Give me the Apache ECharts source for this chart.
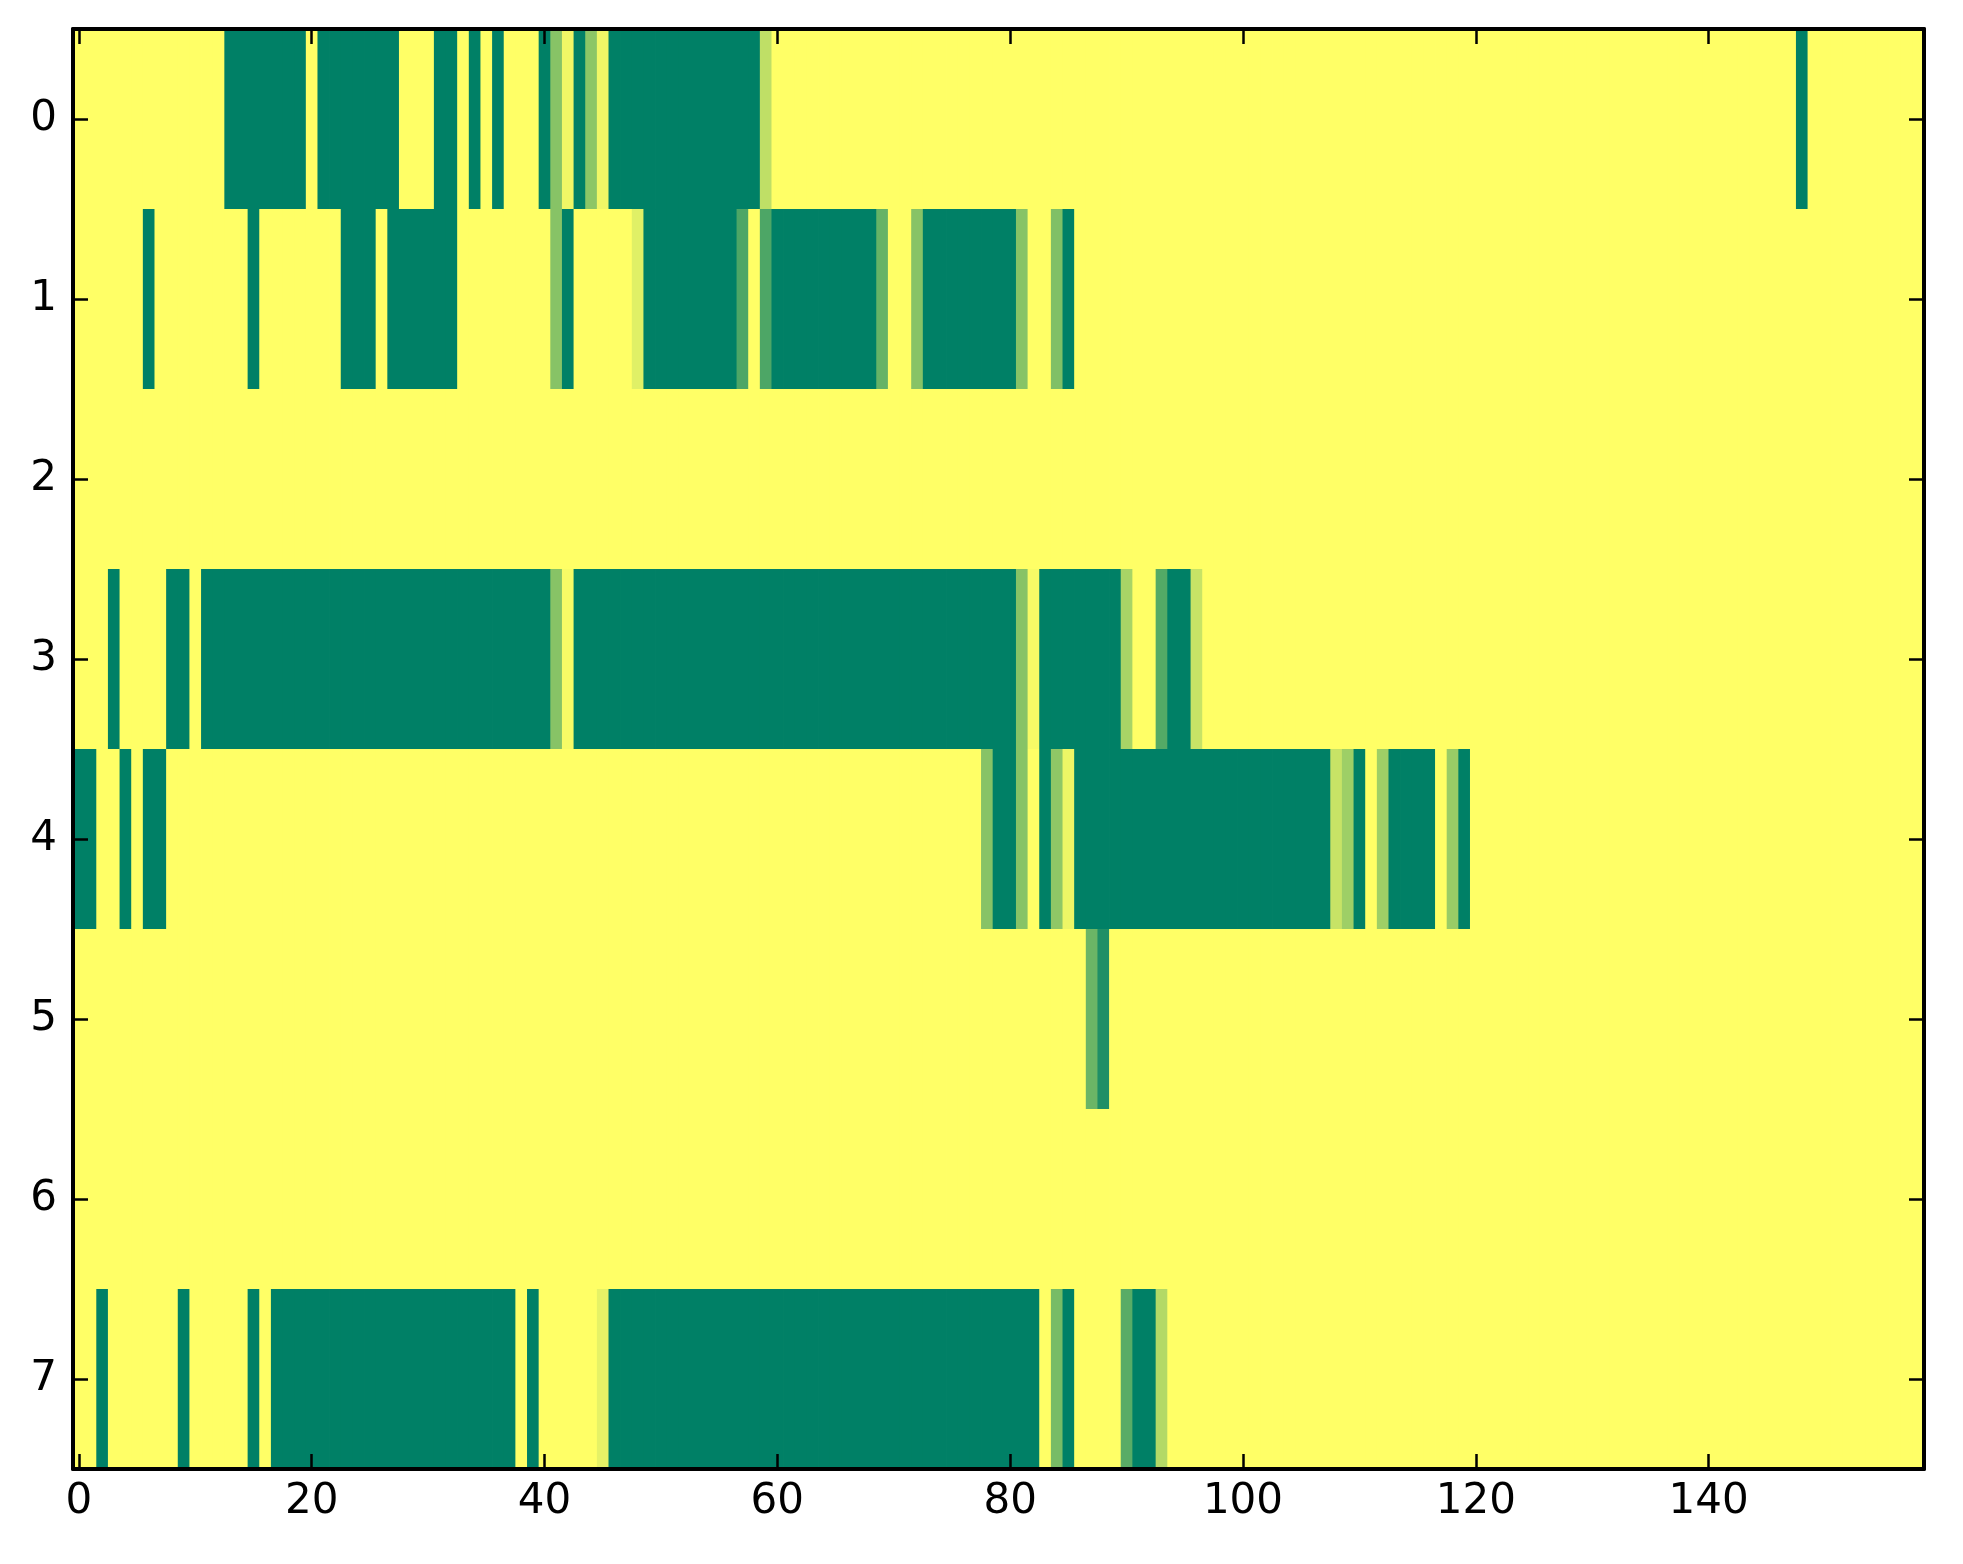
<!DOCTYPE html>
<html>
<head>
<meta charset="utf-8">
<script src="https://cdn.jsdelivr.net/npm/echarts@6/dist/echarts.min.js"></script>
<style>
  html, body { margin: 0; padding: 0; background: #ffffff; }
  #chart { width: 1963px; height: 1564px; }
</style>
</head>
<body>
<div id="chart"></div>
<script>
// ---- data (values 0..1 on the "summer" colour scale) ----
const row0 = [
  1,1,1,1,1,1,1,1,1,1,
  1,1,1,0,0,0,0,0,0,0,
  1,0,0,0,0,0,0,0,1,1,
  1,0,0,1,0,1,0,1,1,1,
  0,0.53,0.94,0,0.55,0.94,0,0,0,0,
  0,0,0,0,0,0,0,0,0,0.75,
  1,1,1,1,1,1,1,1,1,1,
  1,1,1,1,1,1,1,1,1,1,
  1,1,1,1,1,1,1,1,1,1,
  1,1,1,1,1,1,1,1,1,1,
  1,1,1,1,1,1,1,1,1,1,
  1,1,1,1,1,1,1,1,1,1,
  1,1,1,1,1,1,1,1,1,1,
  1,1,1,1,1,1,1,1,1,1,
  1,1,1,1,1,1,1,1,0,1,
  1,1,1,1,1,1,1,1,1
];
const row1 = [
  1,1,1,1,1,1,0,1,1,1,
  1,1,1,1,1,0,1,1,1,1,
  1,1,1,0,0,0,1,0,0,0,
  0,0,0,1,1,1,1,1,1,1,
  1,0.53,0,1,1,1,1,1,0.88,0,
  0,0,0,0,0,0,0,0.3,1,0.3,
  0,0,0,0,0,0,0,0,0,0.4,
  1,1,0.53,0,0,0,0,0,0,0,
  0,0.53,1,1,0.5,0,1,1,1,1,
  1,1,1,1,1,1,1,1,1,1,
  1,1,1,1,1,1,1,1,1,1,
  1,1,1,1,1,1,1,1,1,1,
  1,1,1,1,1,1,1,1,1,1,
  1,1,1,1,1,1,1,1,1,1,
  1,1,1,1,1,1,1,1,1,1,
  1,1,1,1,1,1,1,1,1
];
const row2 = [
  1,1,1,1,1,1,1,1,1,1,
  1,1,1,1,1,1,1,1,1,1,
  1,1,1,1,1,1,1,1,1,1,
  1,1,1,1,1,1,1,1,1,1,
  1,1,1,1,1,1,1,1,1,1,
  1,1,1,1,1,1,1,1,1,1,
  1,1,1,1,1,1,1,1,1,1,
  1,1,1,1,1,1,1,1,1,1,
  1,1,1,1,1,1,1,1,1,1,
  1,1,1,1,1,1,1,1,1,1,
  1,1,1,1,1,1,1,1,1,1,
  1,1,1,1,1,1,1,1,1,1,
  1,1,1,1,1,1,1,1,1,1,
  1,1,1,1,1,1,1,1,1,1,
  1,1,1,1,1,1,1,1,1,1,
  1,1,1,1,1,1,1,1,1
];
const row3 = [
  1,1,1,0,1,1,1,1,0,0,
  1,0,0,0,0,0,0,0,0,0,
  0,0,0,0,0,0,0,0,0,0,
  0,0,0,0,0,0,0,0,0,0,
  0,0.53,0.97,0,0,0,0,0,0,0,
  0,0,0,0,0,0,0,0,0,0,
  0,0,0,0,0,0,0,0,0,0,
  0,0,0,0,0,0,0,0,0,0,
  0,0.53,0.97,0,0,0,0,0,0,0,
  0.66,1,1,0.33,0,0,0.78,1,1,1,
  1,1,1,1,1,1,1,1,1,1,
  1,1,1,1,1,1,1,1,1,1,
  1,1,1,1,1,1,1,1,1,1,
  1,1,1,1,1,1,1,1,1,1,
  1,1,1,1,1,1,1,1,1,1,
  1,1,1,1,1,1,1,1,1
];
const row4 = [
  0,0,1,1,0,1,0,0,1,1,
  1,1,1,1,1,1,1,1,1,1,
  1,1,1,1,1,1,1,1,1,1,
  1,1,1,1,1,1,1,1,1,1,
  1,1,1,1,1,1,1,1,1,1,
  1,1,1,1,1,1,1,1,1,1,
  1,1,1,1,1,1,1,1,1,1,
  1,1,1,1,1,1,1,1,0.53,0,
  0,0.53,1,0,0.56,0.93,0,0,0,0,
  0,0,0,0,0,0,0,0,0,0,
  0,0,0,0,0,0,0,0,0.78,0.62,
  0,1,0.62,0,0,0,0,1,0.6,0,
  1,1,1,1,1,1,1,1,1,1,
  1,1,1,1,1,1,1,1,1,1,
  1,1,1,1,1,1,1,1,1,1,
  1,1,1,1,1,1,1,1,1
];
const row5 = [
  1,1,1,1,1,1,1,1,1,1,
  1,1,1,1,1,1,1,1,1,1,
  1,1,1,1,1,1,1,1,1,1,
  1,1,1,1,1,1,1,1,1,1,
  1,1,1,1,1,1,1,1,1,1,
  1,1,1,1,1,1,1,1,1,1,
  1,1,1,1,1,1,1,1,1,1,
  1,1,1,1,1,1,1,1,1,1,
  1,1,1,1,1,1,1,0.42,0.12,1,
  1,1,1,1,1,1,1,1,1,1,
  1,1,1,1,1,1,1,1,1,1,
  1,1,1,1,1,1,1,1,1,1,
  1,1,1,1,1,1,1,1,1,1,
  1,1,1,1,1,1,1,1,1,1,
  1,1,1,1,1,1,1,1,1,1,
  1,1,1,1,1,1,1,1,1
];
const row6 = [
  1,1,1,1,1,1,1,1,1,1,
  1,1,1,1,1,1,1,1,1,1,
  1,1,1,1,1,1,1,1,1,1,
  1,1,1,1,1,1,1,1,1,1,
  1,1,1,1,1,1,1,1,1,1,
  1,1,1,1,1,1,1,1,1,1,
  1,1,1,1,1,1,1,1,1,1,
  1,1,1,1,1,1,1,1,1,1,
  1,1,1,1,1,1,1,1,1,1,
  1,1,1,1,1,1,1,1,1,1,
  1,1,1,1,1,1,1,1,1,1,
  1,1,1,1,1,1,1,1,1,1,
  1,1,1,1,1,1,1,1,1,1,
  1,1,1,1,1,1,1,1,1,1,
  1,1,1,1,1,1,1,1,1,1,
  1,1,1,1,1,1,1,1,1
];
const row7 = [
  1,1,0,1,1,1,1,1,1,0,
  1,1,1,1,1,0,1,0,0,0,
  0,0,0,0,0,0,0,0,0,0,
  0,0,0,0,0,0,0,0,1,0,
  1,1,1,1,1,0.9,0,0,0,0,
  0,0,0,0,0,0,0,0,0,0,
  0,0,0,0,0,0,0,0,0,0,
  0,0,0,0,0,0,0,0,0,0,
  0,0,0,1,0.47,0,1,1,1,1,
  0.35,0,0,0.7,1,1,1,1,1,1,
  1,1,1,1,1,1,1,1,1,1,
  1,1,1,1,1,1,1,1,1,1,
  1,1,1,1,1,1,1,1,1,1,
  1,1,1,1,1,1,1,1,1,1,
  1,1,1,1,1,1,1,1,1,1,
  1,1,1,1,1,1,1,1,1
];
const rows = [row0, row1, row2, row3, row4, row5, row6, row7];
const rowLabels = ['0','1','2','3','4','5','6','7'];
const xTickLabels = ['0','20','40','60','80','100','120','140'];
const colorLow = '#008066';   // summer(0)
const colorHigh = '#ffff66';  // summer(1)

// ---- build ----
const nCols = row0.length;
const xCategories = [];
for (let i = 0; i < nCols; i++) xCategories.push(String(i));
const cells = [];
rows.forEach((r, y) => r.forEach((v, x) => cells.push([x, y, v])));

const isXTick = (idx) => xTickLabels.indexOf(String(idx)) >= 0;
const FONT = 'DejaVu Sans';
const lineStyle = { color: '#000', width: 4 };
const tickStyle = { color: '#000', width: 2.5 };

const chart = echarts.init(document.getElementById('chart'), null, { renderer: 'canvas' });
chart.setOption({
  animation: false,
  backgroundColor: '#ffffff',
  grid: { left: 73, top: 29, width: 1851, height: 1440, containLabel: false },
  xAxis: [
    {
      type: 'category', data: xCategories, position: 'bottom', boundaryGap: true, z: 10,
      axisLine: { show: true, onZero: false, lineStyle: lineStyle },
      axisTick: { show: true, inside: true, length: 15, alignWithLabel: true, interval: (i) => isXTick(i), lineStyle: tickStyle },
      axisLabel: { show: true, interval: (i) => isXTick(i), margin: 12, fontSize: 42, fontFamily: FONT, color: '#000' },
      splitLine: { show: false }
    },
    {
      type: 'category', data: xCategories, position: 'top', boundaryGap: true, z: 10,
      axisLine: { show: true, onZero: false, lineStyle: lineStyle },
      axisTick: { show: true, inside: true, length: 15, alignWithLabel: true, interval: (i) => isXTick(i), lineStyle: tickStyle },
      axisLabel: { show: false },
      splitLine: { show: false }
    }
  ],
  yAxis: [
    {
      type: 'category', data: rowLabels, inverse: true, position: 'left', boundaryGap: true, z: 10,
      axisLine: { show: true, onZero: false, lineStyle: lineStyle },
      axisTick: { show: true, inside: true, length: 15, alignWithLabel: true, lineStyle: tickStyle },
      axisLabel: { show: true, margin: 16, fontSize: 42, fontFamily: FONT, color: '#000' },
      splitLine: { show: false }
    },
    {
      type: 'category', data: rowLabels, inverse: true, position: 'right', boundaryGap: true, z: 10,
      axisLine: { show: true, onZero: false, lineStyle: lineStyle },
      axisTick: { show: true, inside: true, length: 15, alignWithLabel: true, lineStyle: tickStyle },
      axisLabel: { show: false },
      splitLine: { show: false }
    }
  ],
  visualMap: {
    show: false, type: 'continuous', min: 0, max: 1, dimension: 2, seriesIndex: 0,
    inRange: { color: [colorLow, colorHigh] }
  },
  series: [{
    type: 'custom',
    xAxisIndex: 0, yAxisIndex: 0,
    data: cells,
    encode: { x: 0, y: 1 },
    z: 1,
    silent: true,
    renderItem: function (params, api) {
      const c = api.coord([api.value(0), api.value(1)]);
      const s = api.size([1, 1]);
      return {
        type: 'rect',
        shape: { x: c[0] - s[0] / 2, y: c[1] - s[1] / 2, width: s[0] + 0.8, height: s[1] + 0.8 },
        style: { fill: api.visual('color'), stroke: null }
      };
    }
  }]
});
</script>
</body>
</html>
